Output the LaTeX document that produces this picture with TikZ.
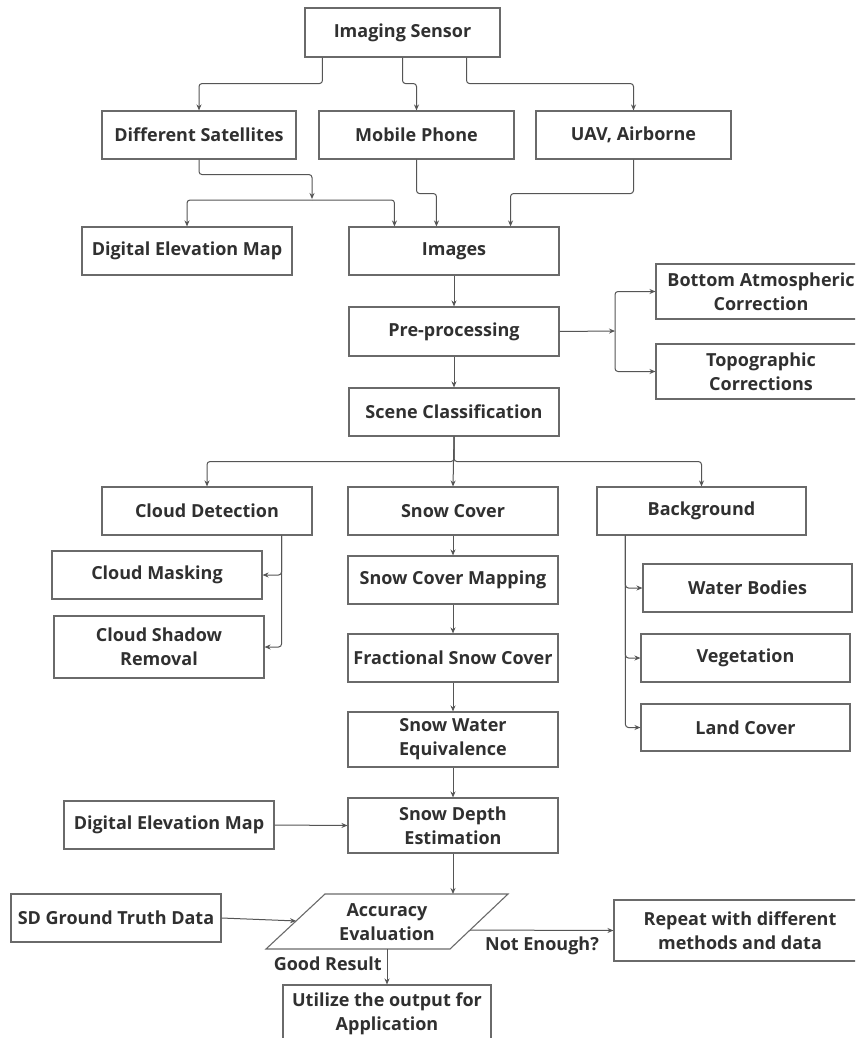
\documentclass[tikz,border=0pt]{standalone}
\usepackage{fontspec}
\setmainfont{Open Sans}
\usetikzlibrary{arrows.meta,calc}
\definecolor{ink}{HTML}{303030}
\definecolor{frame}{HTML}{6A6A6A}
\definecolor{wire}{HTML}{555555}
\tikzset{
  box/.style={draw=frame, line width=1.1pt, fill=white, inner sep=2pt, align=center,
    text=ink, font=\fontsize{18}{24}\selectfont\bfseries},
  lbl/.style={text=ink, inner sep=0pt, align=center, font=\fontsize{18}{24}\selectfont\bfseries},
  conn/.style={draw=wire, line width=1pt, rounded corners=3pt, -{Stealth[length=6pt,width=5pt]}},
  outline/.style={draw=frame, line width=1.1pt},
}
% box given by its corners: name, x1, y1, x2, y2, text
\newcommand\stepnode[6]{%
  \node[box, minimum width={#4-#2}, minimum height={#5-#3}] (#1) at ({(#2+#4)/2},{(#3+#5)/2}) {#6};}
\begin{document}
\begin{tikzpicture}[x=1pt,y=-1pt]
\useasboundingbox (0,0) rectangle (855,1038);
\fill[white] (0,0) rectangle (855,1038);
\clip (0,0) rectangle (855,1038);

% sources
\stepnode{is}{305}{8}{500}{57}{Imaging Sensor}
\stepnode{ds}{102}{111}{296}{159}{Different Satellites}
\stepnode{mp}{319}{111}{514}{159}{Mobile Phone}
\stepnode{uav}{536}{111}{731}{159}{UAV, Airborne}
\stepnode{dem}{82}{227}{292}{275}{Digital Elevation Map}
\stepnode{img}{349}{227}{559}{275}{Images}

% pre-processing
\stepnode{pre}{349}{307}{559}{356}{Pre-processing}
\stepnode{bac}{656}{264}{866}{319}{Bottom Atmospheric\\Correction}
\stepnode{topo}{656}{344}{866}{399}{Topographic\\Corrections}
\stepnode{scene}{349}{388}{559}{436}{Scene Classification}

% classes
\stepnode{cd}{102}{487}{312}{535}{Cloud Detection}
\stepnode{sc}{348}{487}{558}{535}{Snow Cover}
\stepnode{bg}{597}{487}{806}{535}{Background}
\stepnode{cm}{52}{551}{262}{599}{Cloud Masking}
\stepnode{csr}{54}{616}{264}{678}{Cloud Shadow\\Removal}
\stepnode{scm}{348}{556}{558}{604}{Snow Cover Mapping}
\stepnode{fsc}{348}{634}{558}{682}{Fractional Snow Cover}
\stepnode{swe}{348}{712}{558}{767}{Snow Water\\Equivalence}
\stepnode{wb}{643}{564}{852}{612}{Water Bodies}
\stepnode{veg}{641}{634}{850}{682}{Vegetation}
\stepnode{lc}{641}{704}{850}{751}{Land Cover}

% estimation and evaluation
\stepnode{dem2}{64}{801}{274}{849}{Digital Elevation Map}
\stepnode{sde}{348}{798}{558}{853}{Snow Depth\\Estimation}
\stepnode{sd}{11}{894}{221}{942}{SD Ground Truth Data}
\stepnode{rep}{614}{900}{866}{961}{Repeat with different\\methods and data}
\stepnode{util}{283}{985}{491}{1042}{Utilize the output for\\Application}

% decision parallelogram
\coordinate (acc-tl) at (325,894);
\coordinate (acc-tr) at (508,894);
\coordinate (acc-br) at (450,949);
\coordinate (acc-bl) at (266,949);
\draw[outline, fill=white] (acc-tl) -- (acc-tr) -- (acc-br) -- (acc-bl) -- cycle;
\node[lbl] (acc) at (387,922) {Accuracy\\Evaluation};

% junctions
\coordinate (j1) at (312,200);
\coordinate (j2) at (615,331);

% connectors
\draw[conn] ($(is.south west)+(18,0)$) -- ++(0,26) -| (ds.north);
\draw[conn] (is.south) -- ++(0,26) -| (mp.north);
\draw[conn] ($(is.south east)+(-34,0)$) -- ++(0,26) -| (uav.north);

\draw[conn] (ds.south) -- ++(0,15) -| ($(j1)+(0,-1)$);
\draw[conn] (j1) -| (dem.north);
\draw[conn] (j1) -| ($(img.north west)+(46,0)$);
\draw[conn] (mp.south) -- ++(0,34) -| ($(img.north west)+(88,0)$);
\draw[conn] (uav.south) -- ++(0,34) -| ($(img.north east)+(-49,0)$);

\draw[conn] (img.south) -- (pre.north);
\draw[conn] (pre.east) -- (j2);
\draw[conn] (j2) |- (bac.west);
\draw[conn] (j2) |- (topo.west);
\draw[conn] (pre.south) -- (scene.north);

\draw[conn] (scene.south) -- (sc.north);
\draw[conn] (scene.south) -- ++(0,25) -| (cd.north);
\draw[conn] (scene.south) -- ++(0,25) -| (bg.north);

\draw[conn] ($(cd.south east)+(-31,0)$) |- (cm.east);
\draw[conn] ($(cd.south east)+(-31,0)$) |- (csr.east);

\draw[conn] ($(bg.south west)+(29,0)$) |- (wb.west);
\draw[conn] ($(bg.south west)+(29,0)$) |- (veg.west);
\draw[conn] ($(bg.south west)+(29,0)$) |- (lc.west);

\draw[conn] (sc.south) -- (scm.north);
\draw[conn] (scm.south) -- (fsc.north);
\draw[conn] (fsc.south) -- (swe.north);
\draw[conn] (swe.south) -- (sde.north);
\draw[conn] (dem2.east) -- (sde.west);

\draw[conn] (sde.south) -- (sde.south |- acc-tl);
\draw[conn] (sd.east) -- ($(acc-tl)!0.49!(acc-bl)$);
\draw[conn] ($(acc-tr)!0.655!(acc-br)$) -- (rep.west);
\draw[conn] (util.north |- acc-bl) -- (util.north);

% branch labels
\node[lbl, anchor=east] (good) at (382,964) {Good Result};
\node[lbl] (notenough) at (542,946) {Not Enough?};
\end{tikzpicture}
\end{document}
